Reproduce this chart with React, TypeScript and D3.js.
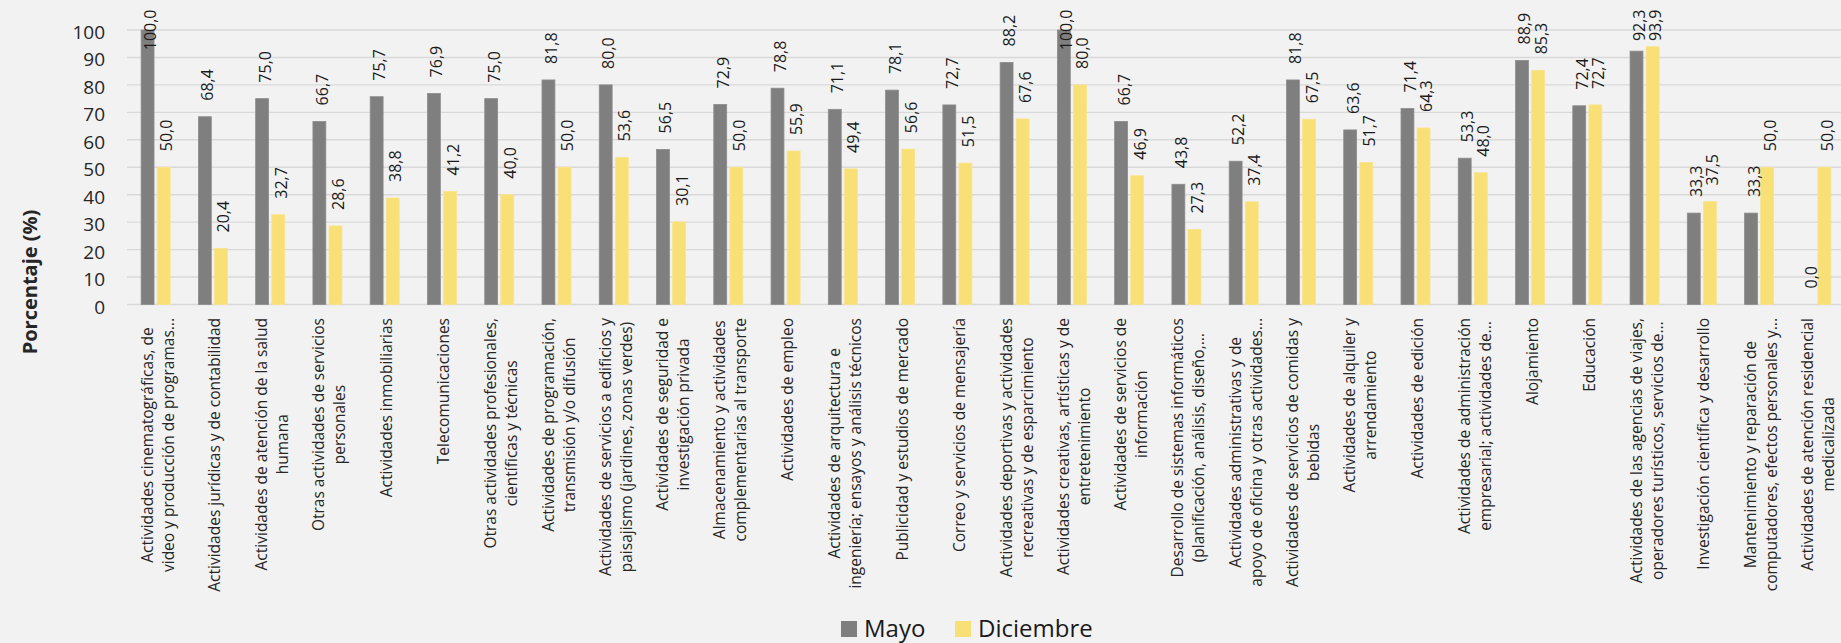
import React, { useMemo } from "react";
import * as d3 from "d3";

const categories: string[] = [
  "Actividades cinematográficas, de\nvideo y producción de programas...",
  "Actividades jurídicas y de contabilidad",
  "Actividades de atención de la salud\nhumana",
  "Otras actividades de servicios\npersonales",
  "Actividades inmobiliarias",
  "Telecomunicaciones",
  "Otras actividades profesionales,\ncientíficas y técnicas",
  "Actividades de programación,\ntransmisión y/o difusión",
  "Actividades de servicios a edificios y\npaisajismo (jardines, zonas verdes)",
  "Actividades de seguridad e\ninvestigación privada",
  "Almacenamiento y actividades\ncomplementarias al transporte",
  "Actividades de empleo",
  "Actividades de arquitectura e\ningeniería; ensayos y análisis técnicos",
  "Publicidad y estudios de mercado",
  "Correo y servicios de mensajería",
  "Actividades deportivas y actividades\nrecreativas y de esparcimiento",
  "Actividades creativas, artísticas y de\nentretenimiento",
  "Actividades de servicios de\ninformación",
  "Desarrollo de sistemas informáticos\n(planificación, análisis, diseño,...",
  "Actividades administrativas y de\napoyo de oficina y otras actividades...",
  "Actividades de servicios de comidas y\nbebidas",
  "Actividades de alquiler y\narrendamiento",
  "Actividades de edición",
  "Actividades de administración\nempresarial; actividades de...",
  "Alojamiento",
  "Educación",
  "Actividades de las agencias de viajes,\noperadores turísticos, servicios de...",
  "Investigación científica y desarrollo",
  "Mantenimiento y reparación de\ncomputadores, efectos personales y...",
  "Actividades de atención residencial\nmedicalizada",
];

const mayo: number[] = [
  100.0, 68.4, 75.0, 66.7, 75.7, 76.9, 75.0, 81.8, 80.0, 56.5, 72.9, 78.8, 71.1, 78.1, 72.7,
  88.2, 100.0, 66.7, 43.8, 52.2, 81.8, 63.6, 71.4, 53.3, 88.9, 72.4, 92.3, 33.3, 33.3, 0.0,
];

const diciembre: number[] = [
  50.0, 20.4, 32.7, 28.6, 38.8, 41.2, 40.0, 50.0, 53.6, 30.1, 50.0, 55.9, 49.4, 56.6, 51.5,
  67.6, 80.0, 46.9, 27.3, 37.4, 67.5, 51.7, 64.3, 48.0, 85.3, 72.7, 93.9, 37.5, 50.0, 50.0,
];

const seriesNames: string[] = ["Mayo", "Diciembre"];
const seriesColors: string[] = ["#7f7f7f", "#f8e077"];
const yTicks: number[] = [0, 10, 20, 30, 40, 50, 60, 70, 80, 90, 100];

const W = 1841;
const H = 643;
const FONT = "'Open Sans', 'Noto Sans', sans-serif";

function fmt(v: number): string {
  return v.toFixed(1).replace(".", ",");
}

export default function App() {
  const plotLeft = 127;
  const plotRight = 1845;
  const gridRight = 1841;
  const y0 = 304.5;
  const y100 = 30;

  const x0 = d3
    .scaleBand<string>()
    .domain(categories)
    .range([plotLeft, plotRight])
    .paddingInner(0.4936)
    .paddingOuter(0.2468);

  const x1 = d3
    .scaleBand<string>()
    .domain(seriesNames)
    .range([0, x0.bandwidth()])
    .paddingInner(0.2);

  const y = d3.scaleLinear().domain([0, 100]).range([y0, y100]);

  const measure = useMemo(() => {
    const canvas = document.createElement("canvas");
    const ctx = canvas.getContext("2d")!;
    return (text: string, font: string) => {
      ctx.font = font;
      return ctx.measureText(text).width;
    };
  }, []);

  const catFont = `15.5px ${FONT}`;
  const labFont = `16px ${FONT}`;
  const catTop = 318;
  const lineGap = 21;

  const values = [mayo, diciembre];

  return (
    <svg
      width={W}
      height={H}
      style={{ position: "absolute", left: 0, top: 0, background: "#f2f2f2" }}
      fontFamily={FONT}
    >
      <rect x={0} y={0} width={W} height={H} fill="#f2f2f2" />
      {/* gridlines */}
      {yTicks.map((t) => (
        <line
          key={"g" + t}
          x1={plotLeft}
          x2={gridRight}
          y1={y(t)}
          y2={y(t)}
          stroke="#d9d9d9"
          strokeWidth={1.4}
        />
      ))}
      {/* y tick labels */}
      {yTicks.map((t) => (
        <text
          key={"t" + t}
          x={105}
          y={y(t) + 9}
          textAnchor="end"
          fontSize={19}
          fill="#262626"
        >
          {t}
        </text>
      ))}
      {/* y axis title */}
      <text
        transform={`translate(${29},${282}) rotate(-90)`}
        textAnchor="middle"
        dominantBaseline="central"
        fontSize={20}
        fontWeight="bold"
        fill="#262626"
      >
        Porcentaje (%)
      </text>
      {/* bars */}
      {categories.map((c, i) => (
        <g key={"b" + i}>
          {seriesNames.map((s, k) => {
            const v = values[k][i];
            const bx = (x0(c) as number) + (x1(s) as number);
            const bw = x1.bandwidth();
            return (
              <rect
                key={s}
                x={bx}
                y={y(v)}
                width={bw}
                height={y0 - y(v)}
                fill={seriesColors[k]}
                stroke={k === 0 ? "#8c8c8c" : "#f9e48a"}
                strokeWidth={v > 0 ? 0.8 : 0}
              />
            );
          })}
        </g>
      ))}
      {/* data labels */}
      {categories.map((c, i) => (
        <g key={"l" + i}>
          {seriesNames.map((s, k) => {
            const v = values[k][i];
            const txt = fmt(v);
            const cx = (x0(c) as number) + (x1(s) as number) + x1.bandwidth() / 2 + 2.5;
            const len = measure(txt, labFont);
            let ly = y(v) - 16;
            let anchor = "start";
            if (ly - len < 9.5) {
              ly = 9.5;
              anchor = "end";
            }
            return (
              <text
                key={s}
                transform={`translate(${cx},${ly}) rotate(-90)`}
                textAnchor={anchor}
                dominantBaseline="central"
                fontSize={16}
                fill="#1a1a1a"
              >
                {txt}
              </text>
            );
          })}
        </g>
      ))}
      {/* category labels */}
      {categories.map((c, i) => {
        const lines = c.split("\n");
        const maxLen = d3.max(lines, (l) => measure(l, catFont)) as number;
        const center = (x0(c) as number) + x0.bandwidth() / 2 + 1.5;
        const cy = catTop + maxLen / 2;
        const n = lines.length;
        return (
          <g key={"c" + i}>
            {lines.map((l, j) => {
              const lx = center + (j - (n - 1) / 2) * lineGap;
              return (
                <text
                  key={j}
                  transform={`translate(${lx},${cy}) rotate(-90)`}
                  textAnchor="middle"
                  dominantBaseline="central"
                  fontSize={15.5}
                  fill="#262626"
                >
                  {l}
                </text>
              );
            })}
          </g>
        );
      })}
      {/* legend */}
      {seriesNames.map((s, k) => {
        const lx = [841, 955][k];
        return (
          <g key={"lg" + s}>
            <rect x={lx} y={621} width={16} height={16} fill={seriesColors[k]} />
            <text x={lx + 23} y={637} fontSize={24} fill="#1a1a1a">
              {s}
            </text>
          </g>
        );
      })}
    </svg>
  );
}
